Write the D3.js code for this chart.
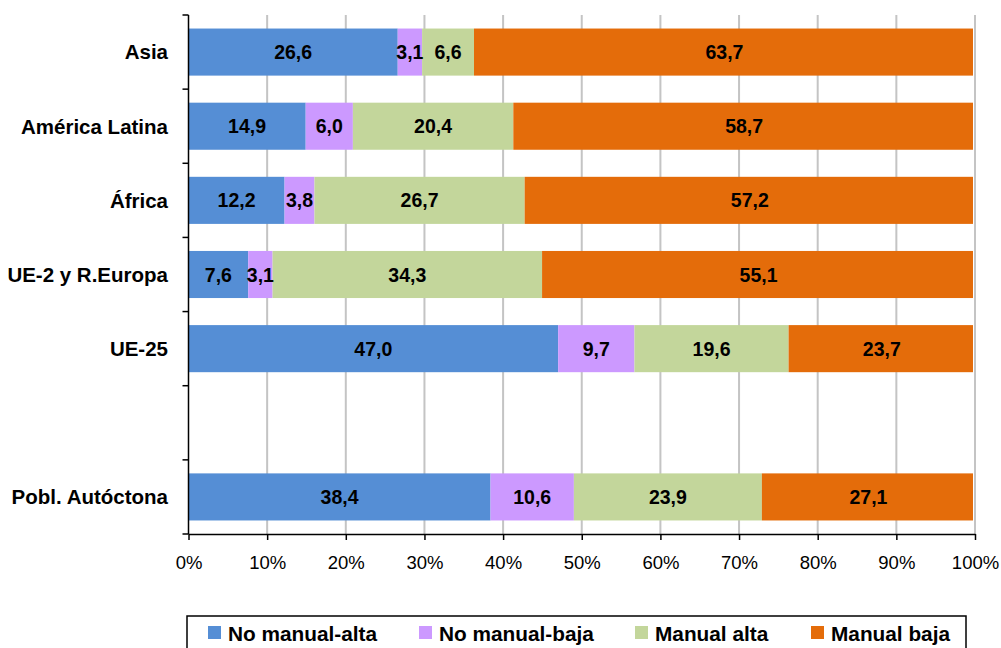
<!DOCTYPE html>
<html>
<head>
<meta charset="utf-8">
<script src="https://cdn.jsdelivr.net/npm/d3@7/dist/d3.min.js"></script>
<style>
  html, body { margin: 0; padding: 0; background: #fff; }
  svg { display: block; font-family: "Liberation Sans", Arial, sans-serif; }
</style>
</head>
<body>
<svg id="chart" width="1001" height="648"></svg>
<script>
// Groups (top to bottom); the empty entry leaves a gap before the reference row
const categories = ["Asia", "América Latina", "África", "UE-2 y R.Europa", "UE-25", "", "Pobl. Autóctona"];
const seriesNames = ["No manual-alta", "No manual-baja", "Manual alta", "Manual baja"];
const noManualAlta = [26.6, 14.9, 12.2, 7.6, 47.0, null, 38.4];
const noManualBaja = [3.1, 6.0, 3.8, 3.1, 9.7, null, 10.6];
const manualAlta   = [6.6, 20.4, 26.7, 34.3, 19.6, null, 23.9];
const manualBaja   = [63.7, 58.7, 57.2, 55.1, 23.7, null, 27.1];
const xTicks = [0, 10, 20, 30, 40, 50, 60, 70, 80, 90, 100];
const colors = ["#558ED5", "#CC99FF", "#C3D69B", "#E46C0A"];

const seriesValues = [noManualAlta, noManualBaja, manualAlta, manualBaja];
const svg = d3.select("#chart");
const plotLeft = 188.5, plotRight = 975, plotTop = 15, plotBottom = 534;

// band keys must be unique, so index them
const keys = categories.map((c, i) => i);
const y = d3.scaleBand().domain(keys).range([plotTop, plotBottom]).paddingInner(0.365).paddingOuter(0.1825);
const x = d3.scaleLinear().domain([0, 100]).range([plotLeft, plotRight]);

// grid
svg.append("g").selectAll("line").data(xTicks.slice(1)).join("line")
  .attr("x1", d => x(d)).attr("x2", d => x(d))
  .attr("y1", plotTop).attr("y2", plotBottom)
  .attr("stroke", "#c4c4c4").attr("stroke-width", 2);

// stacked rows (percent of row total)
const rows = keys.filter(i => seriesValues[0][i] != null).map(i => {
  const vals = seriesValues.map(s => s[i]);
  const total = d3.sum(vals);
  let acc = 0;
  return vals.map((v, k) => {
    const x0 = acc / total * 100;
    acc += v;
    return { row: i, k, v, x0, x1: acc / total * 100 };
  });
}).flat();

const segs = svg.append("g");
segs.selectAll("rect").data(rows).join("rect")
  .attr("x", d => x(d.x0)).attr("width", d => x(d.x1) - x(d.x0) - (d.k === 3 ? 2 : 0))
  .attr("y", d => y(d.row)).attr("height", y.bandwidth())
  .attr("fill", d => colors[d.k]);

segs.selectAll("text").data(rows).join("text")
  .attr("x", d => (x(d.x0) + x(d.x1)) / 2)
  .attr("y", d => y(d.row) + y.bandwidth() / 2)
  .attr("dy", "0.36em")
  .attr("text-anchor", "middle")
  .attr("font-size", 19.5).attr("font-weight", "bold").attr("fill", "#000")
  .text(d => d3.format(".1f")(d.v).replace(".", ","));

// y axis: line, ticks on band edges, category labels
const yAxis = svg.append("g");
yAxis.append("line").attr("x1", plotLeft).attr("x2", plotLeft).attr("y1", plotTop).attr("y2", plotBottom)
  .attr("stroke", "#000").attr("stroke-width", 1.5);
const step = (plotBottom - plotTop) / categories.length;
yAxis.selectAll("line.tick").data(d3.range(categories.length + 1)).join("line")
  .attr("class", "tick")
  .attr("x1", plotLeft - 6).attr("x2", plotLeft)
  .attr("y1", i => plotTop + i * step).attr("y2", i => plotTop + i * step)
  .attr("stroke", "#000").attr("stroke-width", 1.5);
yAxis.selectAll("text").data(keys).join("text")
  .attr("x", 168).attr("y", i => y(i) + y.bandwidth() / 2).attr("dy", "0.36em")
  .attr("text-anchor", "end").attr("font-size", 20.5).attr("font-weight", "bold")
  .text(i => categories[i]);

// x axis
const xAxis = svg.append("g").attr("transform", `translate(0,${plotBottom})`)
  .call(d3.axisBottom(x).tickValues(xTicks).tickSize(6).tickSizeOuter(0).tickFormat(d => d + "%"));
xAxis.select(".domain").attr("stroke", "#000").attr("stroke-width", 1.5);
xAxis.selectAll(".tick line").attr("stroke", "#000").attr("stroke-width", 1.5);
xAxis.selectAll(".tick text").attr("font-size", 18.5).attr("fill", "#000")
  .attr("font-family", "Liberation Sans, Arial, sans-serif").attr("y", 22);

// legend
const legend = svg.append("g");
legend.append("rect").attr("x", 187).attr("y", 616).attr("width", 779).attr("height", 40)
  .attr("fill", "#fff").attr("stroke", "#000").attr("stroke-width", 1.5);
const legendX = [208, 419, 635, 811];
const items = legend.selectAll("g").data(seriesNames).join("g")
  .attr("transform", (d, i) => `translate(${legendX[i]},0)`);
items.append("rect").attr("x", 0).attr("y", 626).attr("width", 13).attr("height", 13)
  .attr("fill", (d, i) => colors[i]);
items.append("text").attr("x", 20).attr("y", 641)
  .attr("font-size", 20.8).attr("font-weight", "bold").text(d => d);
</script>
</body>
</html>
